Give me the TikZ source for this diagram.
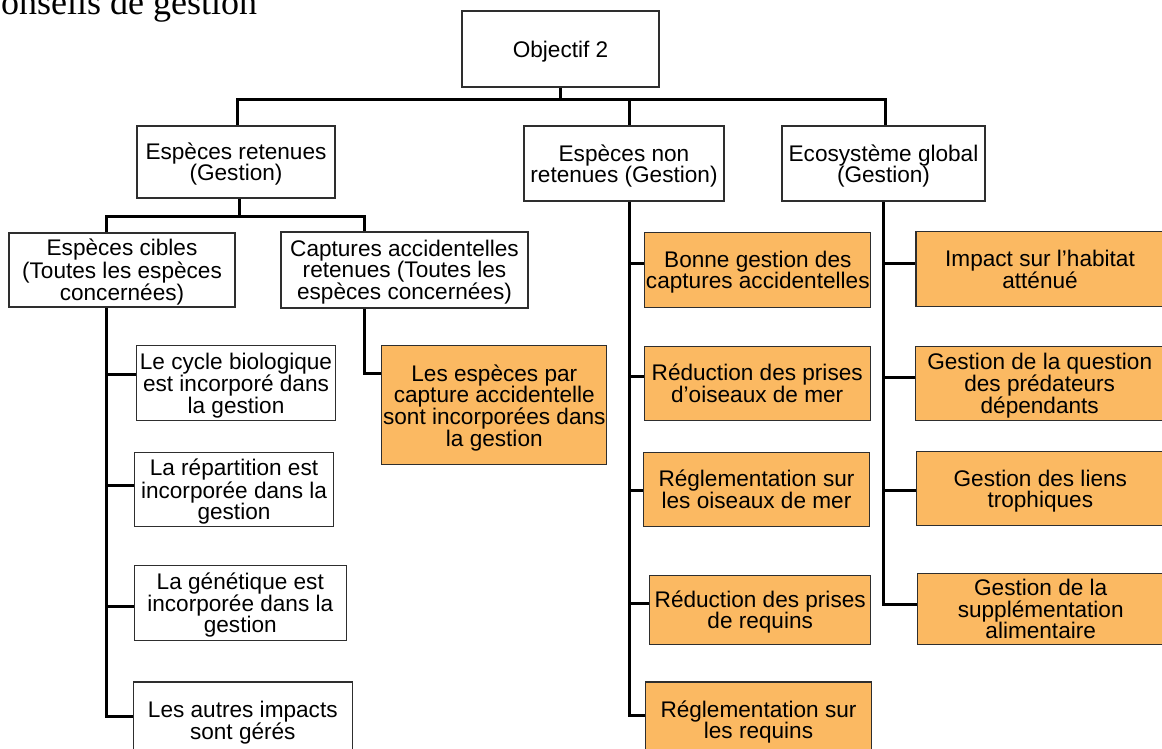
\documentclass[tikz,border=0pt]{standalone}
\usepackage{fontspec}
\setmainfont{Liberation Sans}
\newfontfamily\headserif{Liberation Serif}
\definecolor{boxorange}{HTML}{FBB962}
\definecolor{boxline}{HTML}{2E2E2E}
\begin{document}
\begin{tikzpicture}[x=1pt,y=-1pt,
  box/.style={draw=boxline, line width=1.1pt, fill=white, align=center,
    inner sep=1pt, text depth=-1pt, font=\fontsize{22.6}{21.3}\selectfont},
  obox/.style={box, fill=boxorange},
  conn/.style={draw=black, line width=3pt}]
\useasboundingbox (0,0) rectangle (1162,749);

% heading, cut at the top edge of the page
\node[anchor=base west, inner sep=0pt, font=\headserif\fontsize{36}{36}\selectfont] (head) at (1,15) {onseils de gestion};

% level 0 and 1
\node[box, minimum width=197pt, minimum height=76pt] (obj) at (560.5,49) {Objectif 2};
\node[box, minimum width=198pt, minimum height=72pt] (ret) at (236,162) {Espèces retenues\\(Gestion)};
\node[box, minimum width=200pt, minimum height=75pt] (nret) at (624,163.5) {Espèces non\\retenues (Gestion)};
\node[box, minimum width=203pt, minimum height=75pt] (eco) at (883.5,163.5) {Ecosystème global\\(Gestion)};

% level 2 under the retained species
\node[box, minimum width=226pt, minimum height=74pt] (cib) at (122,270) {Espèces cibles\\(Toutes les espèces\\concernées)};
\node[box, minimum width=247pt, minimum height=76pt] (cap) at (404.5,270) {Captures accidentelles\\retenues (Toutes les\\espèces concernées)};

% target species items
\node[box, minimum width=199pt, minimum height=75pt] (cyc) at (236,383) {Le cycle biologique\\est incorporé dans\\la gestion};
\node[box, minimum width=199pt, minimum height=74pt] (rep) at (234,489.3) {La répartition est\\incorporée dans la\\gestion};
\node[box, minimum width=212pt, minimum height=75pt] (gen) at (240.3,602.7) {La génétique est\\incorporée dans la\\gestion};
\node[box, minimum width=219pt, minimum height=76pt] (aut) at (242.8,720) {Les autres impacts\\sont gérés};

% by-catch item
\node[obox, minimum width=225pt, minimum height=119pt] (esp) at (494.3,405.3) {Les espèces par\\capture accidentelle\\sont incorporées dans\\la gestion};

% non-retained species items
\node[obox, minimum width=226pt, minimum height=75pt] (bon) at (757.8,270) {Bonne gestion des\\captures accidentelles};
\node[obox, minimum width=226pt, minimum height=74pt] (roi) at (757.2,383.2) {Réduction des prises\\d’oiseaux de mer};
\node[obox, minimum width=226pt, minimum height=74pt] (rgo) at (756.5,489.3) {Réglementation sur\\les oiseaux de mer};
\node[obox, minimum width=221pt, minimum height=69pt] (rre) at (760.2,609.7) {Réduction des prises\\de requins};
\node[obox, minimum width=226pt, minimum height=76pt] (rgr) at (758.5,720) {Réglementation sur\\les requins};

% global ecosystem items
\node[obox, minimum width=248pt, minimum height=75pt] (imp) at (1040,269.3) {Impact sur l’habitat\\atténué};
\node[obox, minimum width=249pt, minimum height=74pt] (pred) at (1039.7,383.2) {Gestion de la question\\des prédateurs\\dépendants};
\node[obox, minimum width=247pt, minimum height=74pt] (lie) at (1040.3,488.5) {Gestion des liens\\trophiques};
\node[obox, minimum width=247pt, minimum height=71pt] (sup) at (1040.7,609) {Gestion de la\\supplémentation\\alimentaire};

% connector junctions
\coordinate (b1l) at (237,100);
\coordinate (b1m) at (629,100);
\coordinate (b1r) at (885,100);
\coordinate (b2l) at (106,216);
\coordinate (b2m) at (239,216);
\coordinate (b2r) at (364,216);
\coordinate (c1) at (106,374);
\coordinate (c2) at (106,485);
\coordinate (c3) at (106,606);
\coordinate (c4) at (106,716);
\coordinate (e1) at (364,373);
\coordinate (n1) at (629,263);
\coordinate (n2) at (629,376);
\coordinate (n3) at (629,490);
\coordinate (n4) at (629,603);
\coordinate (n5) at (629,715);
\coordinate (g1) at (883.5,263);
\coordinate (g2) at (883.5,377);
\coordinate (g3) at (883.5,490.7);
\coordinate (g4) at (883.5,604);

% top level
\draw[conn] (obj.south) -- (obj.south |- b1l);
\draw[conn] (b1l |- ret.north) -- (b1l) -- (b1r) -- (b1r |- eco.north);
\draw[conn] (b1m) -- (b1m |- nret.north);

% retained species
\draw[conn] (b2m |- ret.south) -- (b2m);
\draw[conn] (b2l |- cib.north) -- (b2l) -- (b2r) -- (b2r |- cap.north);
\draw[conn] (b2l |- cib.south) -- (c4) -- (c4 -| aut.west);
\draw[conn] (c1) -- (c1 -| cyc.west);
\draw[conn] (c2) -- (c2 -| rep.west);
\draw[conn] (c3) -- (c3 -| gen.west);
\draw[conn] (b2r |- cap.south) -- (e1) -- (e1 -| esp.west);

% non-retained species
\draw[conn] (n5 |- nret.south) -- (n5) -- (n5 -| rgr.west);
\draw[conn] (n1) -- (n1 -| bon.west);
\draw[conn] (n2) -- (n2 -| roi.west);
\draw[conn] (n3) -- (n3 -| rgo.west);
\draw[conn] (n4) -- (n4 -| rre.west);

% global ecosystem
\draw[conn] (g4 |- eco.south) -- (g4) -- (g4 -| sup.west);
\draw[conn] (g1) -- (g1 -| imp.west);
\draw[conn] (g2) -- (g2 -| pred.west);
\draw[conn] (g3) -- (g3 -| lie.west);
\end{tikzpicture}
\end{document}
